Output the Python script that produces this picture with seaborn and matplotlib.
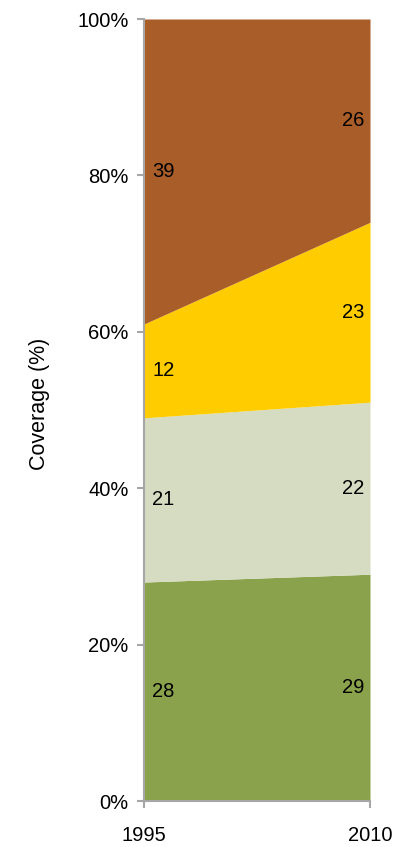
import numpy as np
import matplotlib
matplotlib.use("Agg")
import matplotlib.pyplot as plt
import seaborn as sns
from matplotlib.ticker import PercentFormatter
import matplotlib.transforms as mtransforms

years = [1995, 2010]
series_names = ["Green", "Pale", "Yellow", "Brown"]
green = [28, 29]
pale = [21, 22]
yellow = [12, 23]
brown = [39, 26]
colors = ["#8aa24b", "#d6dcc1", "#ffcc00", "#a95d28"]

sns.set_theme(style="white")
plt.rcParams["font.family"] = ["Liberation Sans", "DejaVu Sans"]

fig = plt.figure(figsize=(3.96, 8.47), dpi=100)
ax = fig.add_axes([144 / 396, 1 - 801 / 847, (370 - 144) / 396, (801 - 19) / 847])

stack = [green, pale, yellow, brown]
ax.stackplot(years, *stack, colors=colors, linewidth=0)

ax.set_xlim(years[0], years[-1])
ax.set_ylim(0, 100)
ax.set_yticks(np.arange(0, 101, 20))
ax.yaxis.set_major_formatter(PercentFormatter(decimals=0))
ax.set_xticks(years)
ax.set_xticklabels([str(y) for y in years])

spine_color = "#a6a6a6"
fs = 14.5
for side in ["top", "right"]:
    ax.spines[side].set_visible(False)
for side in ["left", "bottom"]:
    ax.spines[side].set_color(spine_color)
    ax.spines[side].set_linewidth(1.5)
ax.tick_params(axis="y", direction="out", length=5, width=1.5, color=spine_color,
               labelsize=fs, labelcolor="black", pad=6, left=True)
ax.tick_params(axis="x", direction="out", length=5, width=1.5, color=spine_color,
               labelsize=fs, labelcolor="black", pad=13, bottom=True)
ax.set_ylabel("Coverage (%)", fontsize=15.5, color="black")
ax.yaxis.set_label_coords(-0.415, 0.508)

# value labels at the middle of each band
cum = np.zeros(len(years))
for vals in stack:
    vals = np.array(vals, dtype=float)
    mids = cum + vals / 2
    for i, (yr, v, m) in enumerate(zip(years, vals, mids)):
        if i == 0:
            off = mtransforms.offset_copy(ax.transData, fig=fig, x=8, y=0, units="dots")
            ha = "left"
        else:
            off = mtransforms.offset_copy(ax.transData, fig=fig, x=-6, y=0, units="dots")
            ha = "right"
        ax.text(yr, m, f"{int(v)}", transform=off, ha=ha, va="center",
                fontsize=fs, color="black")
    cum += vals

fig.savefig("out.png", dpi=100)
